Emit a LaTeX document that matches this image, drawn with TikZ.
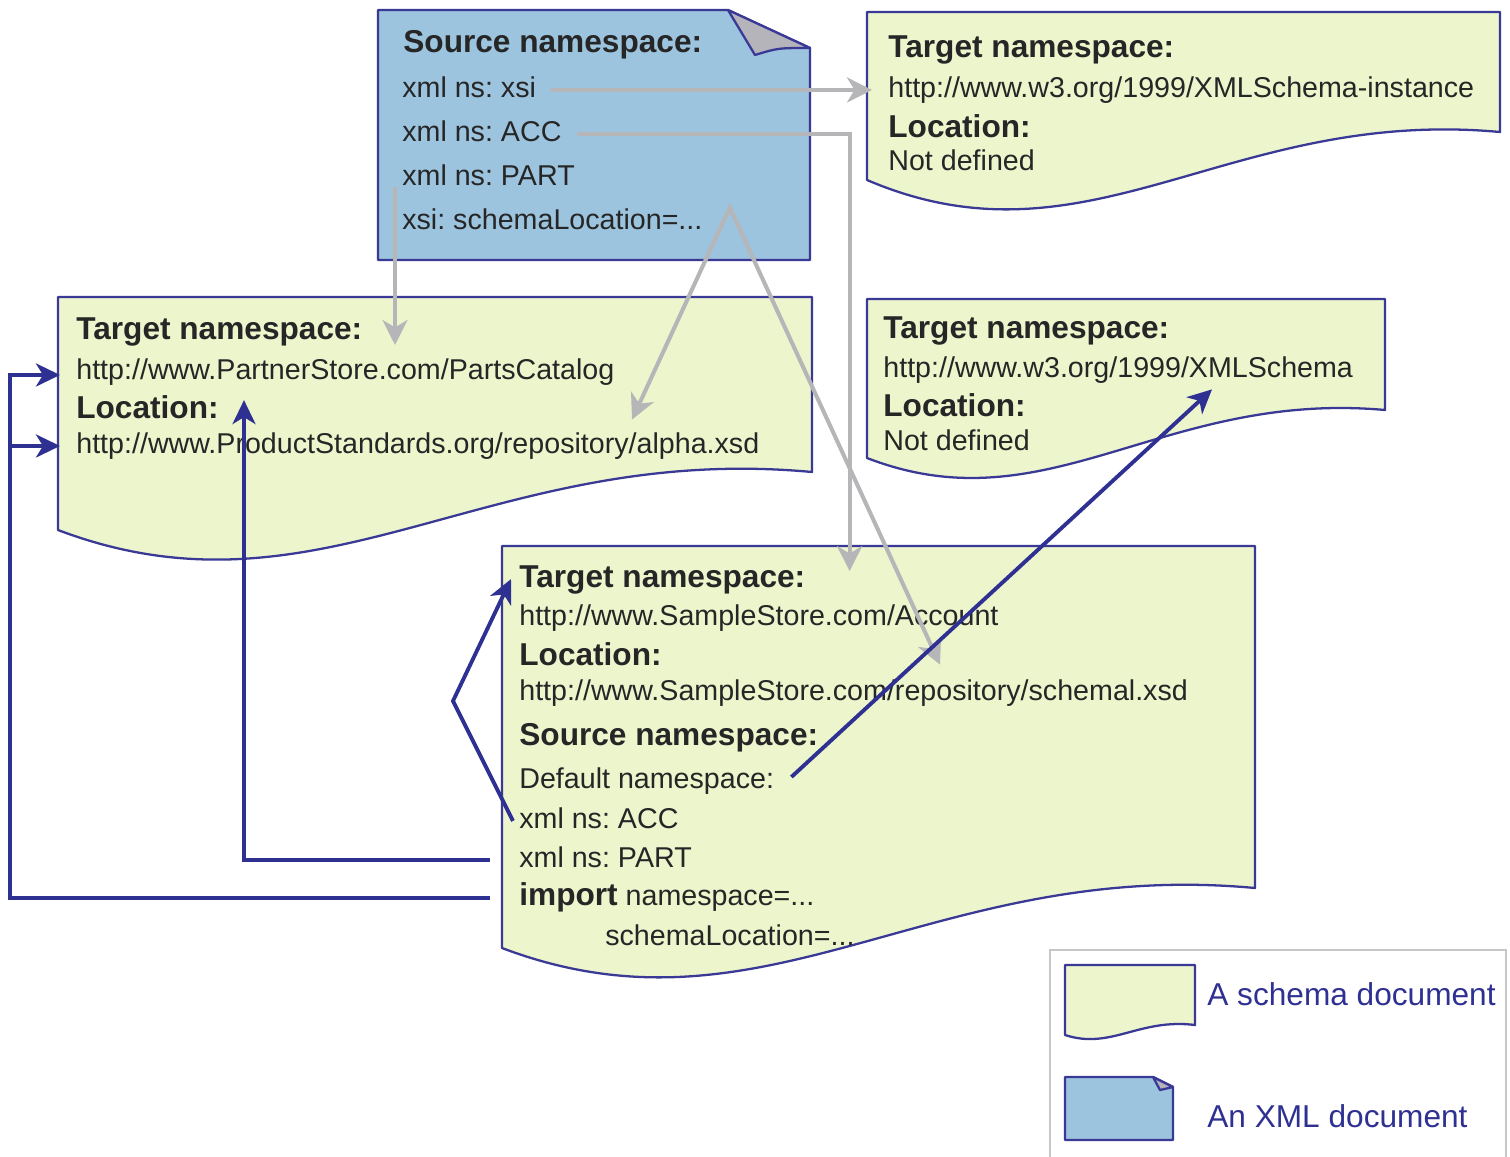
\documentclass[tikz,border=0pt]{standalone}
\usepackage{fontspec}
\setmainfont{Liberation Sans}
\usepackage{xcolor}
\usepackage{tikz}
\usetikzlibrary{arrows.meta, positioning, calc}

\definecolor{schemafill}{RGB}{237,245,205}
\definecolor{xmlfill}{RGB}{156,196,222}
\definecolor{edgeblue}{RGB}{58,58,150}
\definecolor{linkblue}{RGB}{46,49,146}
\definecolor{linkgray}{RGB}{182,182,184}
\definecolor{flapgray}{RGB}{180,180,186}
\frenchspacing

\begin{document}
\begin{tikzpicture}[
    x=0.02cm, y=-0.02cm,
    gtip/.tip={Stealth[length=0.5cm, width=0.5cm, inset=0.15cm]},
    btip/.tip={Stealth[length=0.48cm, width=0.46cm, inset=0.14cm]},
    doc/.style={draw=edgeblue, line width=1.3pt, line join=round},
    schema/.style={doc, fill=schemafill},
    xmldoc/.style={doc, fill=xmlfill},
    head/.style={anchor=base west, inner sep=0pt, font=\fontsize{18}{22}\selectfont\bfseries, text height=13pt, text depth=4pt, text=black!85},
    txt/.style={anchor=base west, inner sep=0pt, font=\fontsize{16.3}{20}\selectfont, text height=12pt, text depth=4pt, text=black!85},
    key/.style={anchor=base west, inner sep=0pt, font=\fontsize{18}{22}\selectfont, text=linkblue},
    gline/.style={-gtip, draw=linkgray, line width=2.3pt, line join=miter},
    bline/.style={-btip, draw=linkblue, line width=2.2pt, line join=miter}
]
\useasboundingbox (0,0) rectangle (1510,1156);

\draw[schema] (867,12) -- (1500,12) -- (1500,132) .. controls (1228,107) and (1089,275) .. (867,180) -- cycle;
\draw[schema] (58,297) -- (812,297) -- (812,472) .. controls (488,442) and (322,630) .. (58,530) -- cycle;
\draw[schema] (867,299) -- (1385,299) -- (1385,410) .. controls (1162,390) and (1048,528) .. (867,458) -- cycle;
\draw[schema] (502,546) -- (1255,546) -- (1255,888) .. controls (931,858) and (766,1048) .. (502,948) -- cycle;
\draw[xmldoc] (378,10) -- (728,10) -- (810,48) -- (810,260) -- (378,260) -- cycle;
\draw[doc, fill=flapgray] (728,10) .. controls (742,32) .. (755,55) .. controls (778,48) .. (810,48) -- cycle;

\draw[draw=black!22, line width=1.2pt] (1050,950) rectangle (1506,1180);
\draw[schema] (1065,965) -- (1195,965) -- (1195,1025) .. controls (1139,1018) and (1111,1050) .. (1065,1035) -- cycle;
\draw[xmldoc] (1065,1077) -- (1153,1077) -- (1173,1087) -- (1173,1140) -- (1065,1140) -- cycle;
\draw[doc, fill=flapgray] (1153,1077) -- (1160,1090) -- (1173,1087) -- cycle;
\node[key] (k1) at (1207,1005) {A schema document};
\node[key] (k2) at (1207,1127) {An XML document};

\node[head] (sh) at (403,52) {Source namespace:};
\node[txt] (xsi) at (402,97) {xml ns: xsi};
\node[txt] (acc) at (402,141) {xml ns: ACC};
\node[txt] (part) at (402,185) {xml ns: PART};
\node[txt] (sloc) at (402,229) {xsi: schemaLocation=...};

\node[head] (tA) at (888,57) {Target namespace:};
\node[txt] (uA) at (888,97) {http://www.w3.org/1999/XMLSchema-instance};
\node[head] (lA) at (888,137) {Location:};
\node[txt] (nA) at (888,170) {Not defined};

\node[head] (tB) at (76,339) {Target namespace:};
\node[txt] (uB) at (76,379) {http://www.PartnerStore.com/PartsCatalog};
\node[head] (lB) at (76,418) {Location:};
\node[txt] (vB) at (76,453) {http://www.ProductStandards.org/repository/alpha.xsd};

\node[head] (tC) at (883,338) {Target namespace:};
\node[txt] (uC) at (883,377) {http://www.w3.org/1999/XMLSchema};
\node[head] (lC) at (883,416) {Location:};
\node[txt] (nC) at (883,450) {Not defined};

\node[head] (tD) at (519,587) {Target namespace:};
\node[txt] (uD) at (519,625) {http://www.SampleStore.com/Account};
\node[head] (lD) at (519,665) {Location:};
\node[txt] (vD) at (519,700) {http://www.SampleStore.com/repository/schemal.xsd};
\node[head] (sD) at (519,745) {Source namespace:};
\node[txt] (dD) at (519,788) {Default namespace:};
\node[txt] (aD) at (519,828) {xml ns: ACC};
\node[txt] (pD) at (519,867) {xml ns: PART};
\node[txt] (iD) at (519,905) {{\fontsize{18}{22}\selectfont\bfseries import} namespace=...};
\node[txt] (cD) at (605,945) {schemaLocation=...};

\draw[gline] ($(xsi.east)+(15,0)$) -- ($(uA.west)+(-16,0)$);
\draw[gline] ($(acc.east)+(15,0)$) -| ($(tD.east)+(44,-8)$);
\draw[gline] ($(part.base west)+(-7,2)$) coordinate (p) -- ($(p |- tB.base)+(0,6)$);
\coordinate (apex) at ($(sloc.north east)+(27,0)$);
\draw[gline, gtip-gtip] ($(vB.north west)+(556,-12)$) -- (apex) -- ($(vD.north west)+(421,-14)$);

\draw[bline] ($(aD.west)+(-6,0)$) -- ++(-60,-120) -- ($(tD.west)+(-8,0)$);
\draw[bline] ($(dD.east)+(17,-4)$) -- ($(uC.south west)+(329,5)$);
\draw[bline] ($(pD.west)+(-29,0)$) -| ($(lB.east)+(25,-10)$);
\draw[bline] ($(iD.west)+(-29,0)$) -- ++(-480,0) |- ($(uB.west)+(-16,3)$);
\draw[bline] ($(vB.west)+(-66,0)$) -- ($(vB.west)+(-16,0)$);
\end{tikzpicture}
\end{document}
